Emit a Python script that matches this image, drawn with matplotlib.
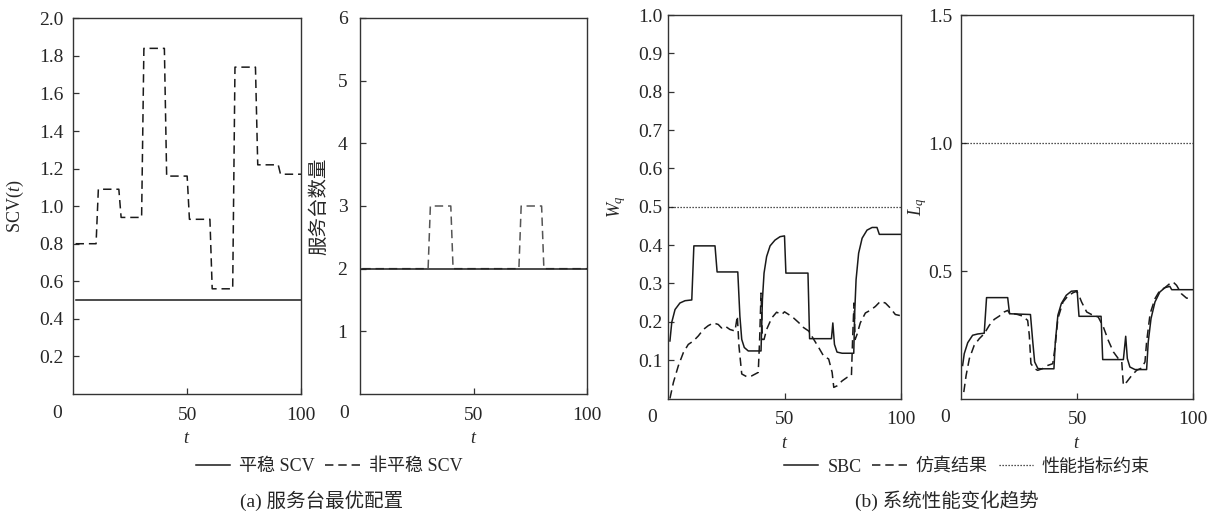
import matplotlib
matplotlib.use("Agg")
import matplotlib.pyplot as plt

plt.rcParams['mathtext.fontset'] = 'custom'
plt.rcParams['mathtext.it'] = 'Liberation Serif:italic'
plt.rcParams['mathtext.rm'] = 'Liberation Serif'
plt.rcParams['mathtext.default'] = 'it'

# ---------------- data ----------------
scv_t = [1, 10, 11, 20, 21, 30, 31, 40, 41, 50, 51, 60, 61, 70, 71, 80, 81, 90, 91, 100]
scv_nonstat = [0.80, 0.80, 1.09, 1.09, 0.94, 0.94, 1.84, 1.84, 1.16, 1.16,
               0.93, 0.93, 0.56, 0.56, 1.74, 1.74, 1.22, 1.22, 1.17, 1.17]
scv_stat_t = [1, 100]
scv_stat = [0.5, 0.5]

srv_t = [1, 30, 31, 40, 41, 70, 71, 80, 81, 100]
srv_nonstat = [2, 2, 3, 3, 2, 2, 3, 3, 2, 2]
srv_stat_t = [0, 100]
srv_stat = [2, 2]

wq_sbc_t = [0.7, 1.5, 2.9, 5.0, 7.2, 10.1, 11.0, 20.1, 21.0, 29.9,
            30.8, 31.6, 32.7, 34.4, 39.9, 40.5, 41.2, 42.3, 43.8, 45.9,
            48.1, 50.0, 50.6, 60.1, 60.8, 70.2, 70.8, 71.5, 72.6, 74.8,
            79.8, 80.2, 80.8, 81.9, 83.4, 85.5, 87.7, 89.8, 90.8, 100]
wq_sbc = [0.150, 0.199, 0.232, 0.249, 0.255, 0.257, 0.398, 0.398, 0.330, 0.330,
          0.215, 0.154, 0.133, 0.124, 0.124, 0.258, 0.327, 0.370, 0.398, 0.413,
          0.422, 0.424, 0.327, 0.327, 0.156, 0.156, 0.197, 0.141, 0.121, 0.118,
          0.118, 0.223, 0.310, 0.379, 0.418, 0.439, 0.446, 0.446, 0.428, 0.428]
wq_sim_t = [0.7, 2.2, 4.3, 6.5, 8.6, 10.8, 12.9, 15.1, 17.2, 19.4,
            21.5, 22.9, 24.4, 26.5, 28.7, 29.7, 30.4, 31.6, 33.7, 35.9,
            38.7, 39.3, 39.9, 40.5, 41.2, 42.3, 44.5, 46.6, 48.8, 50.0,
            51.8, 53.9, 56.1, 58.2, 60.4, 62.6, 64.7, 66.8, 69.0, 70.5,
            71.2, 72.6, 74.8, 76.9, 78.8, 79.3, 79.9, 80.4, 81.2, 82.6,
            84.8, 86.9, 89.1, 91.2, 93.4, 95.5, 97.7, 99.9]
wq_sim = [0.000, 0.042, 0.085, 0.120, 0.141, 0.150, 0.163, 0.180, 0.190, 0.197,
          0.193, 0.184, 0.189, 0.180, 0.176, 0.215, 0.137, 0.064, 0.057, 0.059,
          0.068, 0.154, 0.275, 0.154, 0.154, 0.180, 0.210, 0.225, 0.219, 0.226,
          0.219, 0.210, 0.198, 0.185, 0.176, 0.154, 0.133, 0.111, 0.103, 0.068,
          0.029, 0.033, 0.046, 0.055, 0.059, 0.154, 0.249, 0.154, 0.167, 0.197,
          0.223, 0.230, 0.240, 0.253, 0.249, 0.236, 0.219, 0.216]
wq_limit = 0.5

lq_sbc_t = [0.7, 1.4, 2.9, 5.0, 7.2, 10.0, 11.0, 20.1, 20.9, 29.9,
            30.9, 31.7, 33.1, 34.6, 40.0, 40.6, 41.7, 43.2, 45.3, 47.5,
            50.0, 50.8, 60.3, 61.0, 69.9, 70.9, 71.6, 72.7, 74.9, 79.9,
            80.6, 81.8, 83.5, 85.6, 87.8, 89.9, 90.7, 100]
lq_sbc = [0.131, 0.177, 0.220, 0.249, 0.254, 0.257, 0.396, 0.396, 0.333, 0.330,
          0.223, 0.145, 0.119, 0.118, 0.118, 0.223, 0.327, 0.373, 0.405, 0.421,
          0.423, 0.323, 0.323, 0.154, 0.154, 0.245, 0.158, 0.125, 0.115, 0.115,
          0.223, 0.314, 0.379, 0.418, 0.435, 0.440, 0.427, 0.427]
lq_sim_t = [1.2, 2.2, 3.6, 5.7, 7.9, 10.0, 12.2, 14.3, 16.5, 18.6,
            20.1, 21.5, 22.9, 24.4, 26.5, 28.7, 29.4, 30.1, 31.6, 33.0,
            35.2, 37.3, 39.5, 40.6, 41.7, 43.9, 46.0, 48.2, 49.6, 50.5,
            51.9, 54.1, 56.2, 59.1, 61.3, 63.4, 65.6, 67.7, 69.2, 69.9,
            71.3, 73.5, 75.6, 77.8, 79.2, 79.9, 81.4, 83.5, 85.6, 87.8,
            89.9, 91.3, 92.8, 94.9, 97.1, 99.2]
lq_sim = [0.027, 0.092, 0.158, 0.210, 0.236, 0.255, 0.288, 0.311, 0.324, 0.340,
          0.346, 0.327, 0.333, 0.330, 0.324, 0.307, 0.249, 0.138, 0.119, 0.112,
          0.119, 0.131, 0.138, 0.210, 0.314, 0.379, 0.402, 0.415, 0.420, 0.411,
          0.379, 0.340, 0.330, 0.320, 0.281, 0.229, 0.184, 0.158, 0.145, 0.054,
          0.066, 0.092, 0.112, 0.121, 0.145, 0.223, 0.333, 0.392, 0.424, 0.435,
          0.451, 0.457, 0.444, 0.411, 0.394, 0.394]
lq_limit = 1.0

yticks_scv = [0.2, 0.4, 0.6, 0.8, 1.0, 1.2, 1.4, 1.6, 1.8, 2.0]
yticks_srv = [1, 2, 3, 4, 5, 6]
yticks_wq = [0.1, 0.2, 0.3, 0.4, 0.5, 0.6, 0.7, 0.8, 0.9, 1.0]
yticks_lq = [0.5, 1.0, 1.5]
xticks = [50, 100]

# ---------------- style ----------------
SERIF = ['Liberation Serif', 'DejaVu Serif']
MIX = ['Liberation Serif', 'Noto Sans CJK SC', 'DejaVu Sans']
CJK = ['Noto Sans CJK SC', 'DejaVu Sans']
TXT = '#262626'
LC = '#1a1a1a'
DASH = (0, (5.5, 3.2))
DOT = (0, (1, 1.4))

W, H = 1223, 523
fig = plt.figure(figsize=(W / 100, H / 100), dpi=100)

bounds = [(73.3, 301, 18.3, 394),
          (360, 587, 18, 394),
          (668.3, 900.7, 15, 398.5),
          (961, 1193.3, 15, 399)]
axes = [fig.add_axes([l / W, 1 - b / H, (r - l) / W, (b - t) / H]) for (l, r, t, b) in bounds]

ylims = [(0, 2.0), (0, 6), (0, 1.0), (0, 1.5)]
yts = [yticks_scv, yticks_srv, yticks_wq, yticks_lq]
yfmt = ['{:.1f}', '{:d}', '{:.1f}', '{:.1f}']
ylab_x = [15, 319, 617, 918]
ylabels = ['SCV($t$)', '服务台数量', '$W_q$', '$L_q$']
ypads = [7, 9, 4, 6]

for i, ax in enumerate(axes):
    l, r, t, b = bounds[i]
    ax.set_xlim(0, 100)
    ax.set_ylim(*ylims[i])
    ax.set_xticks(xticks)
    ax.set_xticklabels([str(v) for v in xticks])
    ax.set_yticks(yts[i])
    ax.set_yticklabels([yfmt[i].format(v) for v in yts[i]])
    ax.tick_params(axis='both', direction='in', length=4, width=0.9,
                   colors='#333333', labelcolor=TXT, labelsize=14)
    ax.tick_params(axis='x', pad=9)
    ax.tick_params(axis='y', pad=ypads[i])
    for lab in ax.get_xticklabels() + ax.get_yticklabels():
        lab.set_fontfamily(SERIF)
    for sp in ax.spines.values():
        sp.set_color('#333333')
        sp.set_linewidth(1.0)
    ax.annotate('0', xy=(0, 0), xycoords='axes fraction', xytext=(-16, -19),
                textcoords='offset pixels', ha='center', va='center',
                fontsize=14, family=SERIF, color=TXT)
    ax.set_xlabel('$t$', fontsize=13, color=TXT)
    ax.xaxis.set_label_coords(0.5, -44 / (b - t))
    ax.xaxis.label.set_va('center')
    fam = CJK if i == 1 else SERIF
    ax.set_ylabel(ylabels[i], fontsize=14 if i == 1 else 13, color=TXT, family=fam)
    ax.yaxis.set_label_coords((ylab_x[i] - l) / (r - l), 0.5)
    ax.yaxis.label.set_va('center')

ax1, ax2, ax3, ax4 = axes
h_stat, = ax1.plot(scv_stat_t, scv_stat, color=LC, lw=1.1, label='平稳 SCV')
h_ns, = ax1.plot(scv_t, scv_nonstat, color=LC, lw=1.1, ls=DASH, label='非平稳 SCV')

ax2.plot(srv_t, srv_nonstat, color='#555555', lw=1.1, ls=DASH)
ax2.plot(srv_stat_t, srv_stat, color=LC, lw=1.1)

h_sbc, = ax3.plot(wq_sbc_t, wq_sbc, color=LC, lw=1.1, label='SBC')
h_sim, = ax3.plot(wq_sim_t, wq_sim, color=LC, lw=1.1, ls=DASH, label='仿真结果')
h_lim = ax3.axhline(wq_limit, color=LC, lw=0.9, ls=DOT, label='性能指标约束')

ax4.plot(lq_sbc_t, lq_sbc, color=LC, lw=1.1)
ax4.plot(lq_sim_t, lq_sim, color=LC, lw=1.1, ls=DASH)
ax4.axhline(lq_limit, color=LC, lw=0.9, ls=DOT)

legprop = {'family': MIX, 'size': 13}
fig.legend(handles=[h_stat, h_ns], loc='center', bbox_to_anchor=(329 / W, 1 - 467 / H),
           ncol=2, frameon=False, prop=legprop, handlelength=1.9, handletextpad=0.5,
           columnspacing=0.6, labelcolor=TXT, borderpad=0)
fig.legend(handles=[h_sbc, h_sim, h_lim], loc='center', bbox_to_anchor=(967 / W, 1 - 467 / H),
           ncol=3, frameon=False, prop=legprop, handlelength=1.9, handletextpad=0.5,
           columnspacing=0.6, labelcolor=TXT, borderpad=0)

fig.text(322 / W, 1 - 501 / H, '(a) 服务台最优配置', ha='center', va='center',
         fontsize=14, family=MIX, color=TXT)
fig.text(947 / W, 1 - 501 / H, '(b) 系统性能变化趋势', ha='center', va='center',
         fontsize=14, family=MIX, color=TXT)

fig.savefig('out.png', dpi=100)
